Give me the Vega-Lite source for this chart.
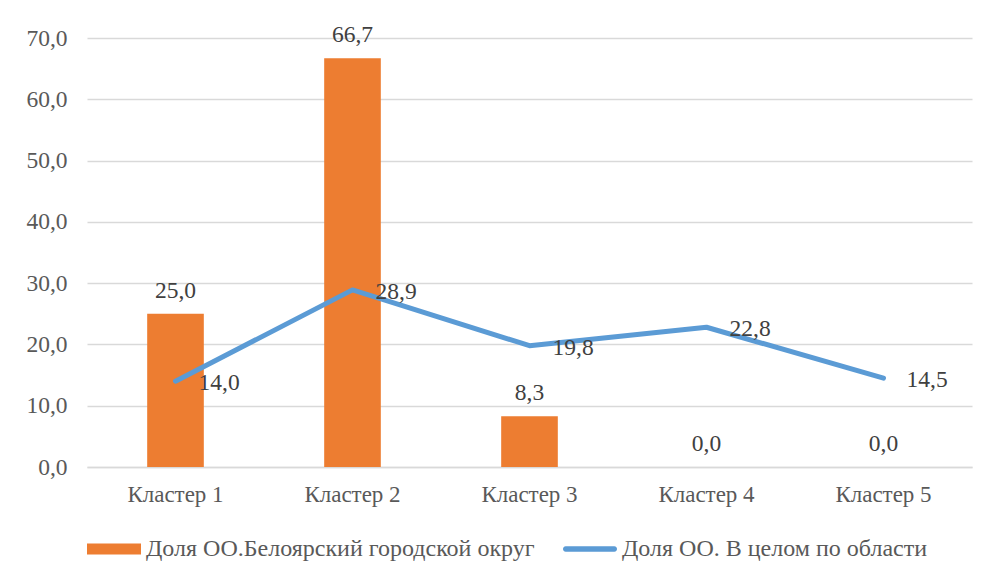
{
  "$schema": "https://vega.github.io/schema/vega-lite/v6.json",
  "width": 885,
  "height": 429,
  "autosize": {"type": "none"},
  "padding": {"left": 87, "top": 38, "right": 17, "bottom": 112},
  "background": "white",
  "config": {
    "font": "Times New Roman, Liberation Serif, serif",
    "axis": {"labelFont": "Times New Roman, Liberation Serif, serif"},
    "legend": {"labelFont": "Times New Roman, Liberation Serif, serif"},
    "text": {"font": "Times New Roman, Liberation Serif, serif"},
    "view": {"stroke": null},
    "locale": {"number": {"decimal": ",", "thousands": " ", "grouping": [3], "currency": ["", ""]}}
  },
  "data": {
    "values": [
      {"cluster": "Кластер 1", "series": "Доля ОО.Белоярский городской округ", "value": 25.0},
      {"cluster": "Кластер 2", "series": "Доля ОО.Белоярский городской округ", "value": 66.7},
      {"cluster": "Кластер 3", "series": "Доля ОО.Белоярский городской округ", "value": 8.3},
      {"cluster": "Кластер 4", "series": "Доля ОО.Белоярский городской округ", "value": 0.0},
      {"cluster": "Кластер 5", "series": "Доля ОО.Белоярский городской округ", "value": 0.0},
      {"cluster": "Кластер 1", "series": "Доля ОО. В целом по области", "value": 14.0},
      {"cluster": "Кластер 2", "series": "Доля ОО. В целом по области", "value": 28.9},
      {"cluster": "Кластер 3", "series": "Доля ОО. В целом по области", "value": 19.8},
      {"cluster": "Кластер 4", "series": "Доля ОО. В целом по области", "value": 22.8},
      {"cluster": "Кластер 5", "series": "Доля ОО. В целом по области", "value": 14.5}
    ]
  },
  "encoding": {
    "x": {
      "field": "cluster",
      "type": "nominal",
      "sort": null,
      "scale": {"paddingInner": 0.68, "paddingOuter": 0.34},
      "axis": {
        "title": null,
        "labelAngle": 0,
        "labelFontSize": 23,
        "labelColor": "#595959",
        "labelPadding": 16,
        "ticks": false,
        "domainColor": "#D9D9D9",
        "domainWidth": 1.5,
        "grid": false
      }
    },
    "y": {
      "field": "value",
      "type": "quantitative",
      "scale": {"domain": [0, 70], "nice": false},
      "axis": {
        "title": null,
        "values": [0, 10, 20, 30, 40, 50, 60, 70],
        "format": ".1f",
        "labelFontSize": 23.5,
        "labelColor": "#595959",
        "labelPadding": 20,
        "ticks": false,
        "domain": false,
        "gridColor": "#D9D9D9",
        "gridWidth": 1.5
      }
    }
  },
  "layer": [
    {
      "transform": [{"filter": "datum.series == 'Доля ОО.Белоярский городской округ'"}],
      "mark": {"type": "bar"},
      "encoding": {
        "color": {
          "field": "series",
          "type": "nominal",
          "scale": {
            "domain": ["Доля ОО.Белоярский городской округ", "Доля ОО. В целом по области"],
            "range": ["#ED7D31", "#5B9BD5"]
          },
          "legend": {
            "title": null,
            "orient": "bottom",
            "direction": "horizontal",
            "offset": 16,
            "labelFontSize": 24,
            "labelColor": "#595959",
            "labelLimit": 600,
            "labelOffset": 5,
            "columnPadding": 28,
            "symbolSize": 2916,
            "encode": {
              "symbols": {
                "update": {
                  "shape": {"signal": "datum.value == 'Доля ОО.Белоярский городской округ' ? 'M-1,-0.2L1,-0.2L1,0.2L-1,0.2Z' : 'M-0.9,-0.1L0.9,-0.1A0.1,0.1 0 0 1 0.9,0.1L-0.9,0.1A0.1,0.1 0 0 1 -0.9,-0.1Z'"},
                  "fill": {"signal": "datum.value == 'Доля ОО.Белоярский городской округ' ? '#ED7D31' : '#5B9BD5'"},
                  "stroke": {"value": "transparent"},
                  "strokeWidth": {"value": 0},
                  "opacity": {"value": 1}
                }
              }
            }
          }
        }
      }
    },
    {
      "transform": [{"filter": "datum.series == 'Доля ОО.Белоярский городской округ'"}],
      "mark": {"type": "text", "fontSize": 23.5, "color": "#404040", "baseline": "alphabetic", "dy": -16},
      "encoding": {
        "text": {"field": "value", "type": "quantitative", "format": ".1f"}
      }
    },
    {
      "transform": [{"filter": "datum.series == 'Доля ОО. В целом по области'"}],
      "mark": {"type": "line", "strokeWidth": 5, "strokeCap": "round", "strokeJoin": "round"},
      "encoding": {
        "color": {"field": "series", "type": "nominal"}
      }
    },
    {
      "transform": [{"filter": "datum.series == 'Доля ОО. В целом по области'"}],
      "mark": {"type": "text", "fontSize": 23.5, "color": "#404040", "align": "left", "baseline": "middle", "dx": 23, "dy": 2},
      "encoding": {
        "text": {"field": "value", "type": "quantitative", "format": ".1f"}
      }
    }
  ]
}
